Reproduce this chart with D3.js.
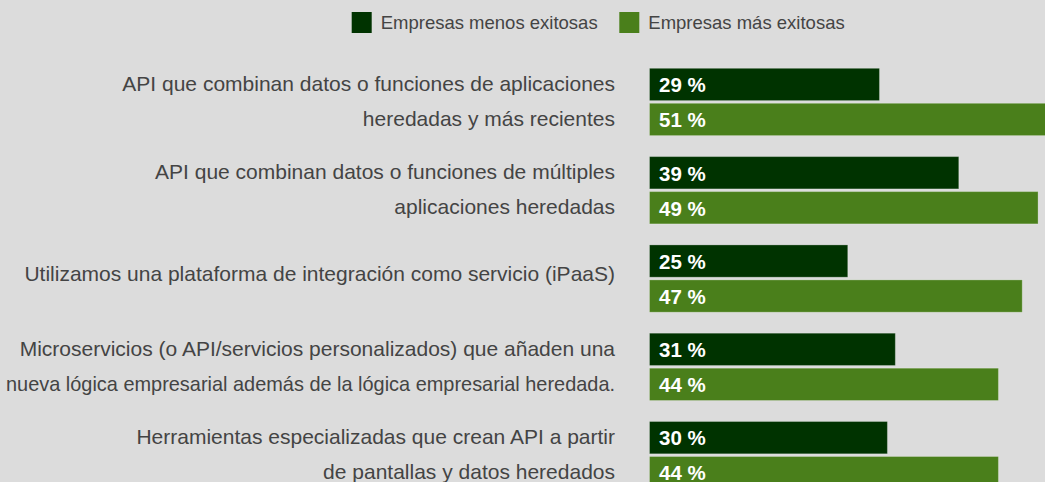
<!DOCTYPE html>
<html><head><meta charset="utf-8">
<script src="https://cdn.jsdelivr.net/npm/d3@7"></script>
<style>
html,body{margin:0;padding:0;background:#dcdcdc;overflow:hidden}
svg{display:block;font-family:"Liberation Sans",Arial,Helvetica,sans-serif}
</style></head>
<body>
<svg id="c" width="1045" height="482"></svg>
<script>
const categories = [
  ["API que combinan datos o funciones de aplicaciones", "heredadas y más recientes"],
  ["API que combinan datos o funciones de múltiples", "aplicaciones heredadas"],
  ["Utilizamos una plataforma de integración como servicio (iPaaS)"],
  ["Microservicios (o API/servicios personalizados) que añaden una", "nueva lógica empresarial además de la lógica empresarial heredada."],
  ["Herramientas especializadas que crean API a partir", "de pantallas y datos heredados"]
];
const seriesNames = ["Empresas menos exitosas", "Empresas más exitosas"];
const lessSuccessful = [29, 39, 25, 31, 30];
const moreSuccessful = [51, 49, 47, 44, 44];
const colors = ["#003300", "#4a7f1b"];

const svg = d3.select("#c");
svg.append("rect").attr("width",1045).attr("height",482).attr("fill","#dcdcdc");

const idx = categories.map((d,i)=>i);
const y = d3.scaleBand().domain(idx).range([68.3, 488.8]).paddingInner(0.238).paddingOuter(0);
const ySub = d3.scaleBand().domain([0,1]).range([0, y.bandwidth()]).paddingInner(0.077);
const x = d3.scaleLinear().domain([0,100]).range([649.5, 649.5+793]);

const series = [lessSuccessful, moreSuccessful];
const data = [];
idx.forEach(i => series.forEach((s,k)=> data.push({i, k, v:s[i]})));

const g = svg.append("g");
g.selectAll("rect.bar").data(data).join("rect")
  .attr("class","bar")
  .attr("x", x(0))
  .attr("y", d => y(d.i) + ySub(d.k))
  .attr("width", d => x(d.v) - x(0))
  .attr("height", ySub.bandwidth())
  .attr("fill", d => colors[d.k])
  .attr("stroke", "rgba(255,255,255,0.25)")
  .attr("stroke-width", 1);

g.selectAll("text.val").data(data).join("text")
  .attr("class","val")
  .attr("x", x(0) + 9.5)
  .attr("y", d => y(d.i) + ySub(d.k) + ySub.bandwidth()/2)
  .attr("dy", "0.38em")
  .attr("fill", "#ffffff")
  .attr("font-weight", "bold")
  .attr("font-size", "20.5px")
  .text(d => d.v + " %");

// category labels
const labelRight = 615;
const lab = svg.append("g");
idx.forEach(i => {
  const lines = categories[i];
  lines.forEach((ln, k) => {
    const yy = lines.length === 2
      ? y(i) + ySub(k) + ySub.bandwidth()/2
      : y(i) + y.bandwidth()/2 - 4;
    const t = lab.append("text")
      .attr("text-anchor","end")
      .attr("font-size","21px")
      .attr("fill","#444444")
      .attr("x", labelRight)
      .attr("y", yy)
      .attr("dy","0.3em")
      .text(ln);
    const w = t.node().getComputedTextLength();
    const maxW = labelRight - 6;
    if (w > maxW) t.attr("textLength", maxW).attr("lengthAdjust","spacingAndGlyphs");
  });
});

// legend
const leg = svg.append("g");
const legX = [351.7, 619.3];
seriesNames.forEach((n,k) => {
  leg.append("rect").attr("x", legX[k]).attr("y", 12).attr("width", 20).attr("height", 21).attr("fill", colors[k]);
  leg.append("text").attr("x", legX[k] + 29).attr("y", 29)
    .attr("font-size","18.5px").attr("fill","#444444").text(n);
});
</script>
</body></html>
